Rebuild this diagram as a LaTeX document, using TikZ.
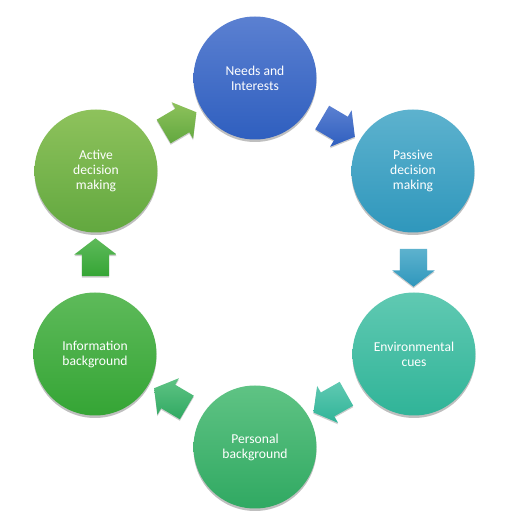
\documentclass[tikz,border=0pt]{standalone}
\usepackage{fontspec}
\setmainfont{Carlito}
\usetikzlibrary{shapes.arrows,shadows,calc}
\definecolor{nT}{HTML}{5B80D1}\definecolor{nB}{HTML}{2F5FBF}
\definecolor{pT}{HTML}{5DB2CE}\definecolor{pB}{HTML}{2F97BC}
\definecolor{eT}{HTML}{60C9B2}\definecolor{eB}{HTML}{30B498}
\definecolor{qT}{HTML}{5FC384}\definecolor{qB}{HTML}{30A962}
\definecolor{iT}{HTML}{5EBA5A}\definecolor{iB}{HTML}{35A535}
\definecolor{aT}{HTML}{8EC25C}\definecolor{aB}{HTML}{62A83F}
\tikzset{
  stage/.style={circle, minimum size=123pt, inner sep=0pt, text=white,
    font=\fontsize{13.6pt}{15pt}\selectfont, align=center,
    drop shadow={shadow xshift=0pt, shadow yshift=-2.5pt, opacity=0.25, fill=black}},
  blkarrow/.style={single arrow, minimum height=34pt, inner sep=13.5pt,
    single arrow head extend=7.5pt, single arrow tip angle=105,
    drop shadow={shadow xshift=0pt, shadow yshift=-1.5pt, opacity=0.2, fill=black}},
}
\begin{document}
\begin{tikzpicture}[x=1pt,y=1pt]
\useasboundingbox (0,0) rectangle (510,528);
\node[stage, top color=nT, bottom color=nB] (N) at (255,450) {Needs and\\Interests};
\node[stage, top color=pT, bottom color=pB] (P) at (413,357) {Passive\\decision\\making};
\node[stage, top color=eT, bottom color=eB] (E) at (414,174) {Environmental\\cues};
\node[stage, top color=qT, bottom color=qB] (Q) at (255,81) {Personal\\background};
\node[stage, top color=iT, bottom color=iB] (I) at (95,174) {Information\\background};
\node[stage, top color=aT, bottom color=aB] (A) at (96,357) {Active\\decision\\making};
\node[blkarrow, rotate=-30.5, top color=nT, bottom color=nB] (a1) at ($(N)!0.5!(P)$) {};
\node[blkarrow, rotate=-90, top color=pT, bottom color=pB] (a2) at ($(P)!0.5!(E)$) {};
\node[blkarrow, rotate=-150.5, top color=eT, bottom color=eB] (a3) at ($(E)!0.5!(Q)$) {};
\node[blkarrow, rotate=149.5, top color=qT, bottom color=qB] (a4) at ($(Q)!0.5!(I)$) {};
\node[blkarrow, rotate=90, top color=iT, bottom color=iB] (a5) at ($(I)!0.5!(A)$) {};
\node[blkarrow, rotate=30.5, top color=aT, bottom color=aB] (a6) at ($(A)!0.5!(N)$) {};
\end{tikzpicture}
\end{document}
